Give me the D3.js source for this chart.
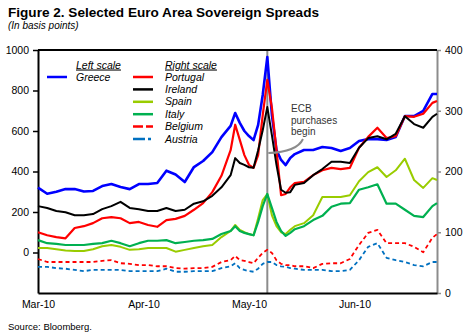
<!DOCTYPE html>
<html>
<head>
<meta charset="utf-8">
<script src="https://cdn.jsdelivr.net/npm/d3@7"></script>
<style>
  body { margin: 0; background: #fff; }
  svg { display: block; font-family: "Liberation Sans", Arial, sans-serif; }
</style>
</head>
<body>
<div id="chart"><svg></svg></div>
<script>
// Sampled trading days, March-June 2010
const dates = [
  '2010-03-01', '2010-03-03', '2010-03-05', '2010-03-09', '2010-03-11', '2010-03-15', '2010-03-17', '2010-03-19',
  '2010-03-23', '2010-03-25', '2010-03-29', '2010-03-31', '2010-04-02', '2010-04-06', '2010-04-08', '2010-04-12',
  '2010-04-14', '2010-04-16', '2010-04-20', '2010-04-22', '2010-04-26', '2010-04-28', '2010-04-29', '2010-04-30',
  '2010-05-03', '2010-05-04', '2010-05-05', '2010-05-06', '2010-05-07', '2010-05-10', '2010-05-11', '2010-05-12',
  '2010-05-13', '2010-05-14', '2010-05-17', '2010-05-18', '2010-05-20', '2010-05-24', '2010-05-26', '2010-05-28',
  '2010-06-01', '2010-06-03', '2010-06-07', '2010-06-09', '2010-06-11', '2010-06-15', '2010-06-17', '2010-06-21',
  '2010-06-23', '2010-06-25', '2010-06-29', '2010-06-30'
];

// Left scale
const greece = [
  320, 290, 300, 313, 313, 301, 304, 328, 338, 323,
  313, 338, 338, 343, 404, 385, 348, 422, 452, 496,
  570, 625, 689, 640, 600, 575, 555, 630, 778, 965,
  679, 506, 457, 432, 467, 486, 506, 506, 521, 516,
  501, 516, 551, 560, 560, 556, 570, 674, 674, 699,
  783, 783
];

// Right scale
const portugal = [
  100, 95, 92, 90, 107, 110, 115, 123, 125, 123,
  115, 117, 112, 109, 120, 122, 127, 137, 148, 166,
  193, 235, 277, 252, 227, 211, 206, 227, 293, 351,
  305, 235, 161, 163, 174, 181, 183, 194, 202, 206,
  204, 206, 239, 257, 272, 255, 258, 291, 290, 295,
  313, 316
];
const ireland = [
  143, 140, 135, 133, 128, 128, 130, 138, 143, 150,
  140, 138, 135, 135, 140, 135, 137, 147, 151, 160,
  174, 194, 222, 214, 211, 207, 206, 235, 268, 306,
  260, 211, 170, 165, 166, 178, 181, 194, 204, 216,
  216, 214, 239, 255, 258, 253, 262, 291, 278, 272,
  290, 295
];
const spain = [
  74, 74, 72, 70, 69, 69, 72, 77, 79, 76,
  71, 72, 74, 74, 74, 68, 71, 74, 77, 79,
  92, 102, 112, 104, 100, 97, 95, 123, 153, 163,
  128, 110, 100, 97, 104, 110, 115, 128, 158, 158,
  158, 161, 184, 199, 207, 191, 202, 221, 186, 173,
  189, 186
];
const italy = [
  87, 82, 81, 79, 79, 79, 81, 82, 86, 82,
  77, 82, 86, 86, 87, 82, 84, 86, 87, 89,
  97, 102, 110, 102, 99, 97, 95, 117, 143, 163,
  140, 117, 102, 94, 99, 105, 110, 120, 127, 142,
  147, 148, 170, 174, 179, 147, 147, 137, 127, 125,
  143, 148
];
const belgium = [
  56, 51, 51, 51, 51, 51, 51, 53, 54, 49,
  48, 46, 46, 44, 44, 41, 40, 41, 41, 43,
  51, 54, 61, 54, 53, 51, 49, 58, 66, 71,
  66, 54, 48, 46, 46, 44, 44, 41, 48, 49,
  49, 56, 79, 99, 104, 82, 82, 82, 76, 67,
  91, 97
];
const austria = [
  43, 43, 41, 40, 38, 36, 38, 38, 38, 38,
  36, 36, 36, 36, 40, 35, 35, 36, 36, 36,
  41, 44, 49, 41, 38, 36, 35, 40, 48, 51,
  51, 46, 44, 43, 41, 40, 38, 38, 38, 36,
  36, 38, 54, 76, 82, 58, 54, 51, 46, 44,
  51, 51
];

const leftTicks = [0, 200, 400, 600, 800, 1000];
const rightTicks = [0, 100, 200, 300, 400];
const xTickDates = ['2010-03-01', '2010-04-01', '2010-05-04', '2010-06-04'];
const xTickLabels = ['Mar-10', 'Apr-10', 'May-10', 'Jun-10'];
const ecbDate = '2010-05-10';

class SpreadsChart {

  constructor(_config, _series) {
    this.config = {
      parentElement: _config.parentElement,
      containerWidth: _config.containerWidth || 467,
      containerHeight: _config.containerHeight || 336,
      margin: _config.margin || { top: 50, right: 30, bottom: 43, left: 38 }
    };
    this.series = _series;
    this.initVis();
  }

  initVis() {
    let vis = this;

    vis.width = vis.config.containerWidth - vis.config.margin.left - vis.config.margin.right;
    vis.height = vis.config.containerHeight - vis.config.margin.top - vis.config.margin.bottom;

    // Category axis over every weekday of the period
    const fmt = d3.timeFormat('%Y-%m-%d');
    vis.tradingDays = d3.timeDay.range(new Date(2010, 2, 1), new Date(2010, 6, 1))
      .filter(d => d.getDay() !== 0 && d.getDay() !== 6)
      .map(fmt);

    vis.xScale = d3.scalePoint().domain(vis.tradingDays).range([0, vis.width]);
    vis.yLeft = d3.scaleLinear().domain([-200, 1000]).range([vis.height, 0]);
    vis.yRight = d3.scaleLinear().domain([0, 400]).range([vis.height, 0]);

    vis.svg = d3.select(vis.config.parentElement).select('svg')
      .attr('width', vis.config.containerWidth)
      .attr('height', vis.config.containerHeight);

    vis.chart = vis.svg.append('g')
      .attr('transform', `translate(${vis.config.margin.left},${vis.config.margin.top})`);

    // Titles
    vis.svg.append('text')
      .attr('x', 8).attr('y', 17)
      .attr('textLength', 311).attr('lengthAdjust', 'spacingAndGlyphs')
      .style('font-size', '13.5px').style('font-weight', 'bold')
      .text('Figure 2. Selected Euro Area Sovereign Spreads');
    vis.svg.append('text')
      .attr('x', 8).attr('y', 28.5)
      .style('font-size', '10px').style('font-style', 'italic')
      .text('(In basis points)');
    vis.svg.append('text')
      .attr('x', 8).attr('y', 330)
      .style('font-size', '9.5px')
      .text('Source: Bloomberg.');
  }

  renderVis() {
    let vis = this;

    // May 10 marker
    const ecbX = vis.xScale(ecbDate);
    vis.chart.append('line')
      .attr('x1', ecbX).attr('x2', ecbX)
      .attr('y1', 0).attr('y2', vis.height)
      .attr('stroke', '#8c8c8c').attr('stroke-width', 2);

    // Axes
    const xAxis = d3.axisBottom(vis.xScale)
      .tickValues(xTickDates)
      .tickFormat((d, i) => xTickLabels[i])
      .tickSize(0).tickPadding(8);
    const leftAxis = d3.axisLeft(vis.yLeft)
      .tickValues(leftTicks).tickFormat(d3.format('d'))
      .tickSize(5).tickSizeOuter(0).tickPadding(4);
    const rightAxis = d3.axisRight(vis.yRight)
      .tickValues(rightTicks).tickFormat(d3.format('d'))
      .tickSize(4).tickSizeOuter(0).tickPadding(4);

    vis.chart.append('g')
      .attr('transform', `translate(${vis.width},0)`)
      .call(rightAxis)
      .call(g => g.select('.domain').attr('stroke', '#8c8c8c').attr('stroke-width', 2))
      .call(g => g.selectAll('.tick line').attr('stroke', '#8c8c8c').attr('stroke-width', 1.5));

    vis.chart.append('line')
      .attr('x1', 0).attr('x2', vis.width)
      .attr('y1', 0).attr('y2', 0)
      .attr('stroke', '#000').attr('stroke-width', 2);

    vis.chart.append('g')
      .attr('transform', `translate(0,${vis.height})`)
      .call(xAxis)
      .call(g => g.select('.domain').attr('stroke', '#000').attr('stroke-width', 2));

    vis.chart.append('g')
      .call(leftAxis)
      .call(g => g.select('.domain').attr('stroke', '#000').attr('stroke-width', 2))
      .call(g => g.selectAll('.tick line').attr('stroke-width', 1.5));

    vis.chart.selectAll('.tick text')
      .attr('fill', '#000')
      .style('font-size', '10.5px')
      .style('font-family', '"Liberation Sans", Arial, sans-serif');

    // Series lines, left-scale series first
    vis.chart.selectAll('.series')
      .data(vis.series)
      .join('path')
      .attr('class', 'series')
      .attr('fill', 'none')
      .attr('stroke', d => d.color)
      .attr('stroke-width', d => d.width)
      .attr('stroke-dasharray', d => d.dash)
      .attr('stroke-linejoin', 'round')
      .attr('d', d => {
        const y = d.axis === 'left' ? vis.yLeft : vis.yRight;
        return d3.line()
          .x((v, i) => vis.xScale(dates[i]))
          .y(v => y(v))(d.values);
      });

    // Annotation
    const note = vis.svg.append('text')
      .attr('x', 291).attr('y', 112)
      .style('font-size', '10px').attr('fill', '#333');
    ['ECB', 'purchases', 'begin'].forEach((t, i) => {
      note.append('tspan').attr('x', 291).attr('dy', i === 0 ? 0 : 11.5).text(t);
    });
    const ax = vis.config.margin.left + ecbX;
    vis.svg.append('path')
      .attr('d', `M303,139 Q297,152 ${ax + 1},153`)
      .attr('fill', 'none')
      .attr('stroke', '#8c8c8c')
      .attr('stroke-width', 2);

    vis.renderLegend();
  }

  renderLegend() {
    let vis = this;
    const legend = vis.svg.append('g').attr('class', 'legend')
      .style('font-size', '10.5px').style('font-style', 'italic');

    legend.append('text').attr('x', 76).attr('y', 68.5)
      .style('text-decoration', 'underline').text('Left scale');
    legend.append('text').attr('x', 165).attr('y', 68.5)
      .style('text-decoration', 'underline').text('Right scale');

    const left = vis.series.filter(d => d.axis === 'left');
    const right = vis.series.filter(d => d.axis === 'right');

    const items = left.map((d, i) => ({ d, x: 47, tx: 76, y: 77 + i * 12.4 }))
      .concat(right.map((d, i) => ({ d, x: 133, tx: 165, y: 77 + i * 12.4 })));

    const rows = legend.selectAll('.item')
      .data(items)
      .join('g')
      .attr('class', 'item');

    rows.append('line')
      .attr('x1', d => d.x).attr('x2', d => d.x + 20)
      .attr('y1', d => d.y).attr('y2', d => d.y)
      .attr('stroke', d => d.d.color)
      .attr('stroke-width', 2.5)
      .attr('stroke-dasharray', d => d.d.legendDash);

    rows.append('text')
      .attr('x', d => d.tx).attr('y', d => d.y + 3.5)
      .text(d => d.d.name);
  }
}

const series = [
  { name: 'Greece', values: greece, axis: 'left', color: '#0000ff', width: 2.6, dash: null, legendDash: null },
  { name: 'Portugal', values: portugal, axis: 'right', color: '#ff0000', width: 2.2, dash: null, legendDash: null },
  { name: 'Ireland', values: ireland, axis: 'right', color: '#000000', width: 2, dash: null, legendDash: null },
  { name: 'Spain', values: spain, axis: 'right', color: '#99cc00', width: 2, dash: null, legendDash: null },
  { name: 'Italy', values: italy, axis: 'right', color: '#00b050', width: 2.2, dash: null, legendDash: null },
  { name: 'Belgium', values: belgium, axis: 'right', color: '#ff0000', width: 1.8, dash: '4,3', legendDash: '10,3' },
  { name: 'Austria', values: austria, axis: 'right', color: '#0070c0', width: 1.8, dash: '4,3', legendDash: '12,3,3,3' }
];

const chart = new SpreadsChart({ parentElement: '#chart' }, series);
chart.renderVis();
</script>
</body>
</html>
